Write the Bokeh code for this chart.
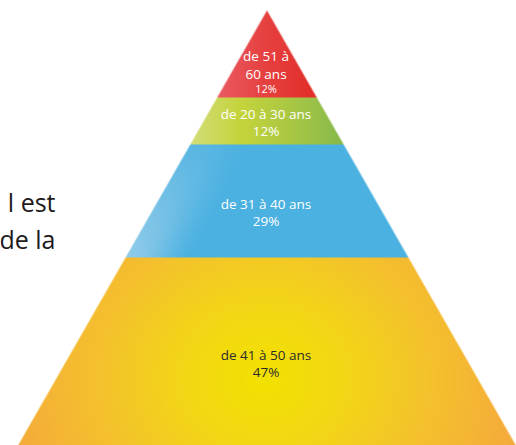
import numpy as np
from bokeh.plotting import figure
from bokeh.models import Range1d, ColumnDataSource
from bokeh.core.properties import value
from bokeh.embed import file_html
from bokeh.resources import INLINE

# ---------------- data ----------------
categories = ["de 51 à 60 ans", "de 20 à 30 ans", "de 31 à 40 ans", "de 41 à 50 ans"]
age_lines = [["de 51 à", "60 ans"], ["de 20 à 30 ans"], ["de 31 à 40 ans"], ["de 41 à 50 ans"]]
shares = [12, 12, 29, 47]
side_text = ["l est", "de la"]

# ---------------- layout (pixels, top-down) ----------------
W, H = 516, 445
apex_x, apex_y = 266.5, 10.0
slope = 249.0 / 435.0
band_edges = [10.0, 97.0, 144.0, 257.0, 447.0]
age_y = [[55, 73], [113], [203], [354]]
pct_y = [88, 130, 220, 371]
pct_size = ["11px", "13.5px", "13.5px", "13.5px"]
label_colors = ["#ffffff", "#ffffff", "#ffffff", "#2b2b2b"]


def hexrgb(h):
    h = h.lstrip("#")
    return np.array([int(h[i:i + 2], 16) for i in (0, 2, 4)], dtype=float)


def ramp(t, stops):
    t = np.clip(t, 0, 1)
    pos = np.array([s[0] for s in stops])
    cols = np.array([hexrgb(s[1]) for s in stops])
    out = np.empty(t.shape + (3,))
    for c in range(3):
        out[..., c] = np.interp(t, pos, cols[:, c])
    return out


SS = 3
xs = (np.arange(W * SS) + 0.5) / SS
ys = (np.arange(H * SS) + 0.5) / SS
X, Y = np.meshgrid(xs, ys)
half = slope * (Y - apex_y)
inside = (np.abs(X - apex_x) <= half) & (Y >= apex_y)
left = apex_x - half
band = np.searchsorted(band_edges, Y) - 1

rgb = np.zeros(X.shape + (3,))
# red band
m = band == 0
t = (X - 217.0) / 100.0
rgb[m] = ramp(t[m], [(0, "#ea5a62"), (0.5, "#e6403f"), (1, "#e22d28")])
# green band
m = band == 1
t = (X - 190.0) / 153.0
rgb[m] = ramp(t[m], [(0, "#d2dd7a"), (0.33, "#c5d43b"), (0.7, "#a6c646"), (1, "#86b94c")])
# blue band
m = band == 2
base = hexrgb("#4bb1e1")
light = hexrgb("#90cbe9")
d = X - left
s = np.clip(1 - d / 70.0, 0, 1)
w = s * s * (3 - 2 * s)
v = np.clip((Y - 144.0) / 113.0, 0, 1) * 0.8 + 0.2
mix = (w * v)[..., None]
blue = base * (1 - mix) + light * mix
rgb[m] = blue[m]
# yellow band
m = band == 3
r = np.sqrt((X - 264.0) ** 2 + ((Y - 378.0) / 0.9) ** 2)
t = r / 260.0
rgb[m] = ramp(t[m], [(0, "#f2e200"), (0.3, "#f3d716"), (0.6, "#f4c42b"), (1, "#f5aa3c")])

alpha = inside.astype(float)
prem = rgb * alpha[..., None]
prem = prem.reshape(H, SS, W, SS, 3).mean(axis=(1, 3))
a = alpha.reshape(H, SS, W, SS).mean(axis=(1, 3))
col = np.where(a[..., None] > 0, prem / np.maximum(a[..., None], 1e-9), 255)
img = np.empty((H, W), dtype=np.uint32)
view = img.view(dtype=np.uint8).reshape((H, W, 4))
view[..., 0] = np.clip(col[..., 0], 0, 255).astype(np.uint8)
view[..., 1] = np.clip(col[..., 1], 0, 255).astype(np.uint8)
view[..., 2] = np.clip(col[..., 2], 0, 255).astype(np.uint8)
view[..., 3] = np.clip(a * 255, 0, 255).astype(np.uint8)
img = img[::-1]  # row 0 at bottom of data space

p = figure(width=W, height=H, output_backend="svg", toolbar_location=None,
           x_range=Range1d(0, W), y_range=Range1d(0, H), min_border=0,
           background_fill_color="white", border_fill_color="white")
p.axis.visible = False
p.grid.visible = False
p.outline_line_color = None

p.image_rgba(image=[img], x=0, y=0, dw=W, dh=H)

# age labels
tx, ty, tt, tc = [], [], [], []
for i, lines in enumerate(age_lines):
    for ln, yy in zip(lines, age_y[i]):
        tx.append(apex_x - 1)
        ty.append(H - yy)
        tt.append(ln)
        tc.append(label_colors[i])
src = ColumnDataSource(dict(x=tx, y=ty, t=tt, c=tc))
p.text(x="x", y="y", text="t", text_color="c", source=src, text_align="center",
       text_baseline="middle", text_font=value("Open Sans"), text_font_size="13.5px")

for i in range(4):
    p.text(x=[apex_x - 1], y=[H - pct_y[i]], text=[f"{shares[i]}%"], text_color=label_colors[i],
           text_align="center", text_baseline="middle", text_font=value("Open Sans"),
           text_font_size=pct_size[i])

p.text(x=[55, 55], y=[H - 201, H - 238], text=side_text, text_color="#1e1a1b",
       text_align="right", text_baseline="alphabetic", text_font=value("Open Sans"),
       text_font_size="25px")

open("out.html", "w").write(file_html(p, INLINE))
